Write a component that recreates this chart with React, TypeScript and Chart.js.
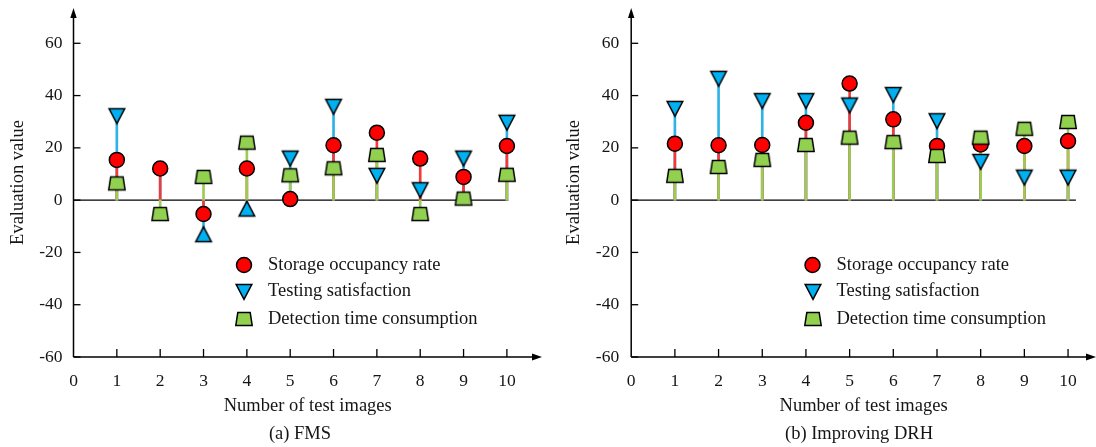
import React, { useEffect, useRef } from "react";
import { Chart, registerables } from "chart.js";

Chart.register(...registerables);

// ---------------- data ----------------
const testImages = [1, 2, 3, 4, 5, 6, 7, 8, 9, 10];
const xTickValues = [0, 1, 2, 3, 4, 5, 6, 7, 8, 9, 10];
const yTickValues = [-60, -40, -20, 0, 20, 40, 60];

const fmsStorage = [15.4, 12.1, -5.3, 12.1, 0.4, 21.0, 25.8, 15.9, 8.9, 20.7];
const fmsTesting = [32.1, 12.1, -13.0, -3.2, 15.9, 35.7, 9.3, 3.8, 15.9, 29.6];
const fmsDetection = [6.4, -5.3, 8.9, 22.0, 9.5, 12.2, 17.3, -5.3, 0.6, 9.7];

const drhStorage = [21.6, 21.0, 21.1, 29.6, 44.6, 30.9, 20.7, 21.3, 20.7, 22.6];
const drhTesting = [34.9, 46.4, 37.9, 37.9, 36.2, 40.2, 30.2, 14.6, 8.6, 8.6];
const drhDetection = [9.3, 12.7, 15.4, 21.1, 23.9, 22.2, 16.9, 23.9, 27.3, 29.9];

const seriesNames = ["Storage occupancy rate", "Testing satisfaction", "Detection time consumption"];
const captions = ["(a) FMS", "(b) Improving DRH"];
const xTitle = "Number of test images";
const yTitle = "Evaluation value";

// ---------------- styles ----------------
const FONT = "'Liberation Serif', 'Times New Roman', serif";
const TEXT = "#151515";
const RED = "#FF0000";
const BLUE = "#00B0F0";
const GREEN = "#92D050";
const RED_STEM = "#F23A3A";
const BLUE_STEM = "#2DB3E6";
const GREEN_STEM = "#9CCB58";

type Marks = { triDown: HTMLCanvasElement; triUp: HTMLCanvasElement; trap: HTMLCanvasElement };

function makeMarks(): Marks {
  const mk = (w: number, h: number, draw: (c: CanvasRenderingContext2D) => void) => {
    const cv = document.createElement("canvas");
    cv.width = w;
    cv.height = h;
    const c = cv.getContext("2d")!;
    c.lineWidth = 1.5;
    c.strokeStyle = "#000";
    c.lineJoin = "miter";
    draw(c);
    return cv;
  };
  const tri = (down: boolean) =>
    mk(22, 22, (c) => {
      const cx = 11, cy = 11, hw = 7.8, hh = 7.4;
      c.beginPath();
      if (down) {
        c.moveTo(cx - hw, cy - hh);
        c.lineTo(cx + hw, cy - hh);
        c.lineTo(cx, cy + hh);
      } else {
        c.moveTo(cx - hw, cy + hh);
        c.lineTo(cx + hw, cy + hh);
        c.lineTo(cx, cy - hh);
      }
      c.closePath();
      c.fillStyle = BLUE;
      c.fill();
      c.stroke();
    });
  const trap = mk(20, 18, (c) => {
    const cx = 10, cy = 9;
    c.beginPath();
    c.moveTo(cx - 6.2, cy - 6.4);
    c.lineTo(cx + 6.2, cy - 6.4);
    c.lineTo(cx + 8.2, cy + 6.4);
    c.lineTo(cx - 8.2, cy + 6.4);
    c.closePath();
    c.fillStyle = GREEN;
    c.fill();
    c.stroke();
  });
  return { triDown: tri(true), triUp: tri(false), trap };
}

type PanelSpec = {
  storage: number[];
  testing: number[];
  detection: number[];
  caption: string;
  left: number;
  width: number;
  yAxisWidth: number;
  padRight: number;
  xMax: number;
  zeroEnd: number;
  yTickPad: number;
  legendX: number;
  captionX: number;
};

const axesPlugin = {
  id: "stemAxes",
  beforeDatasetsDraw(chart: any, _args: any, opts: any) {
    const { ctx, chartArea: ca } = chart;
    const x = chart.scales.x;
    const y = chart.scales.y;
    const ax = ca.left;
    const ay = ca.bottom;
    ctx.save();
    ctx.strokeStyle = "#000";
    ctx.fillStyle = "#000";
    ctx.lineWidth = 1.5;
    // y axis with arrow
    ctx.beginPath();
    ctx.moveTo(ax, ay);
    ctx.lineTo(ax, ca.top + 6);
    ctx.stroke();
    ctx.beginPath();
    ctx.moveTo(ax, ca.top);
    ctx.lineTo(ax - 3.2, ca.top + 10);
    ctx.lineTo(ax + 3.2, ca.top + 10);
    ctx.closePath();
    ctx.fill();
    // x axis with arrow
    ctx.beginPath();
    ctx.moveTo(ax, ay);
    ctx.lineTo(ca.right - 6, ay);
    ctx.stroke();
    ctx.beginPath();
    ctx.moveTo(ca.right, ay);
    ctx.lineTo(ca.right - 10, ay - 3.6);
    ctx.lineTo(ca.right - 10, ay + 3.6);
    ctx.closePath();
    ctx.fill();
    // inward tick marks
    ctx.lineWidth = 1.3;
    for (const v of yTickValues) {
      const py = y.getPixelForValue(v);
      ctx.beginPath();
      ctx.moveTo(ax, py);
      ctx.lineTo(ax + 7, py);
      ctx.stroke();
    }
    for (const v of testImages) {
      const px = x.getPixelForValue(v);
      ctx.beginPath();
      ctx.moveTo(px, ay);
      ctx.lineTo(px, ay - 8);
      ctx.stroke();
    }
    // zero baseline
    const zy = y.getPixelForValue(0);
    ctx.beginPath();
    ctx.moveTo(ax, zy);
    ctx.lineTo(x.getPixelForValue(opts.zeroEnd), zy);
    ctx.stroke();
    ctx.restore();
  },
};

const textPlugin = {
  id: "panelText",
  afterDraw(chart: any, _args: any, opts: any) {
    const { ctx } = chart;
    const marks: Marks = opts.marks;
    ctx.save();
    ctx.font = `18.5px ${FONT}`;
    ctx.fillStyle = TEXT;
    ctx.textBaseline = "middle";
    ctx.textAlign = "left";
    const rows = [265, 291.5, 319];
    const mx = opts.legendX;
    seriesNames.forEach((name, i) => {
      const ry = rows[i];
      if (i === 0) {
        ctx.beginPath();
        ctx.arc(mx, ry, 7.5, 0, Math.PI * 2);
        ctx.fillStyle = RED;
        ctx.fill();
        ctx.lineWidth = 1.5;
        ctx.strokeStyle = "#000";
        ctx.stroke();
      } else {
        const img = i === 1 ? marks.triDown : marks.trap;
        ctx.drawImage(img, Math.round(mx - img.width / 2), Math.round(ry - img.height / 2));
      }
      ctx.fillStyle = TEXT;
      ctx.fillText(name, mx + 24, ry);
    });
    ctx.textAlign = "center";
    ctx.fillText(opts.caption, opts.captionX, 434);
    ctx.restore();
  },
};

function buildChart(canvas: HTMLCanvasElement, spec: PanelSpec, marks: Marks) {
  const pts = (vals: number[]) => testImages.map((x, i) => ({ x, y: vals[i] }));
  const stem = (vals: number[], color: string, order: number) => ({
    type: "bar" as const,
    data: pts(vals),
    backgroundColor: color,
    borderWidth: 0,
    barThickness: 2,
    grouped: false,
    order,
  });
  const tickFont = { family: FONT, size: 17.5 };
  const titleFont = { family: FONT, size: 18.5 };

  return new Chart(canvas, {
    type: "scatter",
    data: {
      datasets: [
        {
          label: seriesNames[2],
          data: pts(spec.detection),
          pointStyle: marks.trap,
          pointRadius: 8,
          order: 0,
        },
        {
          label: seriesNames[0],
          data: pts(spec.storage),
          pointStyle: "circle",
          pointRadius: 7.5,
          backgroundColor: RED,
          borderColor: "#000",
          borderWidth: 1.5,
          order: 1,
        },
        {
          label: seriesNames[1],
          data: pts(spec.testing),
          pointRadius: 8,
          pointStyle: (c: any) => {
            const v = c.raw ? c.raw.y : null;
            if (v == null) return false;
            // marker coinciding with the circle is covered by it in the source figure
            if (Math.abs(v - spec.storage[c.dataIndex]) < 0.5) return false;
            return v >= 0 ? marks.triDown : marks.triUp;
          },
          order: 2,
        },
        stem(spec.detection, GREEN_STEM, 3),
        stem(spec.storage, RED_STEM, 4),
        stem(spec.testing, BLUE_STEM, 5),
      ] as any,
    },
    options: {
      animation: false,
      responsive: false,
      maintainAspectRatio: false,
      events: [],
      layout: { autoPadding: false, padding: { top: 8, right: spec.padRight, bottom: 0, left: 0 } },
      plugins: {
        legend: { display: false },
        tooltip: { enabled: false },
        stemAxes: { zeroEnd: spec.zeroEnd },
        panelText: { marks, legendX: spec.legendX, caption: spec.caption, captionX: spec.captionX },
      } as any,
      scales: {
        x: {
          type: "linear",
          min: 0,
          max: spec.xMax,
          offset: false,
          grid: { display: false, drawTicks: false },
          border: { display: false },
          afterBuildTicks: (s: any) => {
            s.ticks = xTickValues.map((v) => ({ value: v }));
          },
          afterFit: (s: any) => {
            s.height = 90;
            s.paddingLeft = 0;
            s.paddingRight = 0;
          },
          ticks: { font: tickFont, color: TEXT, padding: 14, maxRotation: 0, autoSkip: false },
          title: { display: true, text: xTitle, font: titleFont, color: TEXT, padding: { top: 0, bottom: 30 } },
        },
        y: {
          type: "linear",
          min: -60,
          max: 73.5,
          grid: { display: false, drawTicks: false },
          border: { display: false },
          afterBuildTicks: (s: any) => {
            s.ticks = yTickValues.map((v) => ({ value: v }));
          },
          afterFit: (s: any) => {
            s.width = spec.yAxisWidth;
            s.paddingTop = 0;
            s.paddingBottom = 0;
          },
          ticks: { font: tickFont, color: TEXT, padding: spec.yTickPad },
          title: { display: true, text: yTitle, font: titleFont, color: TEXT, padding: { top: 7, bottom: 0 } },
        },
      },
    } as any,
    plugins: [axesPlugin, textPlugin] as any,
  });
}

const panels: PanelSpec[] = [
  {
    storage: fmsStorage,
    testing: fmsTesting,
    detection: fmsDetection,
    caption: captions[0],
    left: 0,
    width: 556,
    yAxisWidth: 73.5,
    padRight: 14,
    xMax: 10.81,
    zeroEnd: 10.03,
    yTickPad: 11,
    legendX: 244,
    captionX: 300,
  },
  {
    storage: drhStorage,
    testing: drhTesting,
    detection: drhDetection,
    caption: captions[1],
    left: 556,
    width: 540,
    yAxisWidth: 75.2,
    padRight: 0,
    xMax: 10.64,
    zeroEnd: 10.18,
    yTickPad: 12,
    legendX: 256.5,
    captionX: 303,
  },
];

function Panel({ spec }: { spec: PanelSpec }) {
  const ref = useRef<HTMLCanvasElement>(null);
  useEffect(() => {
    const marks = makeMarks();
    const chart = buildChart(ref.current!, spec, marks);
    return () => chart.destroy();
  }, [spec]);
  return (
    <canvas
      ref={ref}
      width={spec.width}
      height={447}
      style={{ position: "absolute", left: spec.left, top: 0, width: spec.width, height: 447 }}
    />
  );
}

export default function App() {
  return (
    <div style={{ position: "absolute", left: 0, top: 0, width: 1096, height: 447, background: "#fff" }}>
      {panels.map((p, i) => (
        <Panel key={i} spec={p} />
      ))}
    </div>
  );
}
